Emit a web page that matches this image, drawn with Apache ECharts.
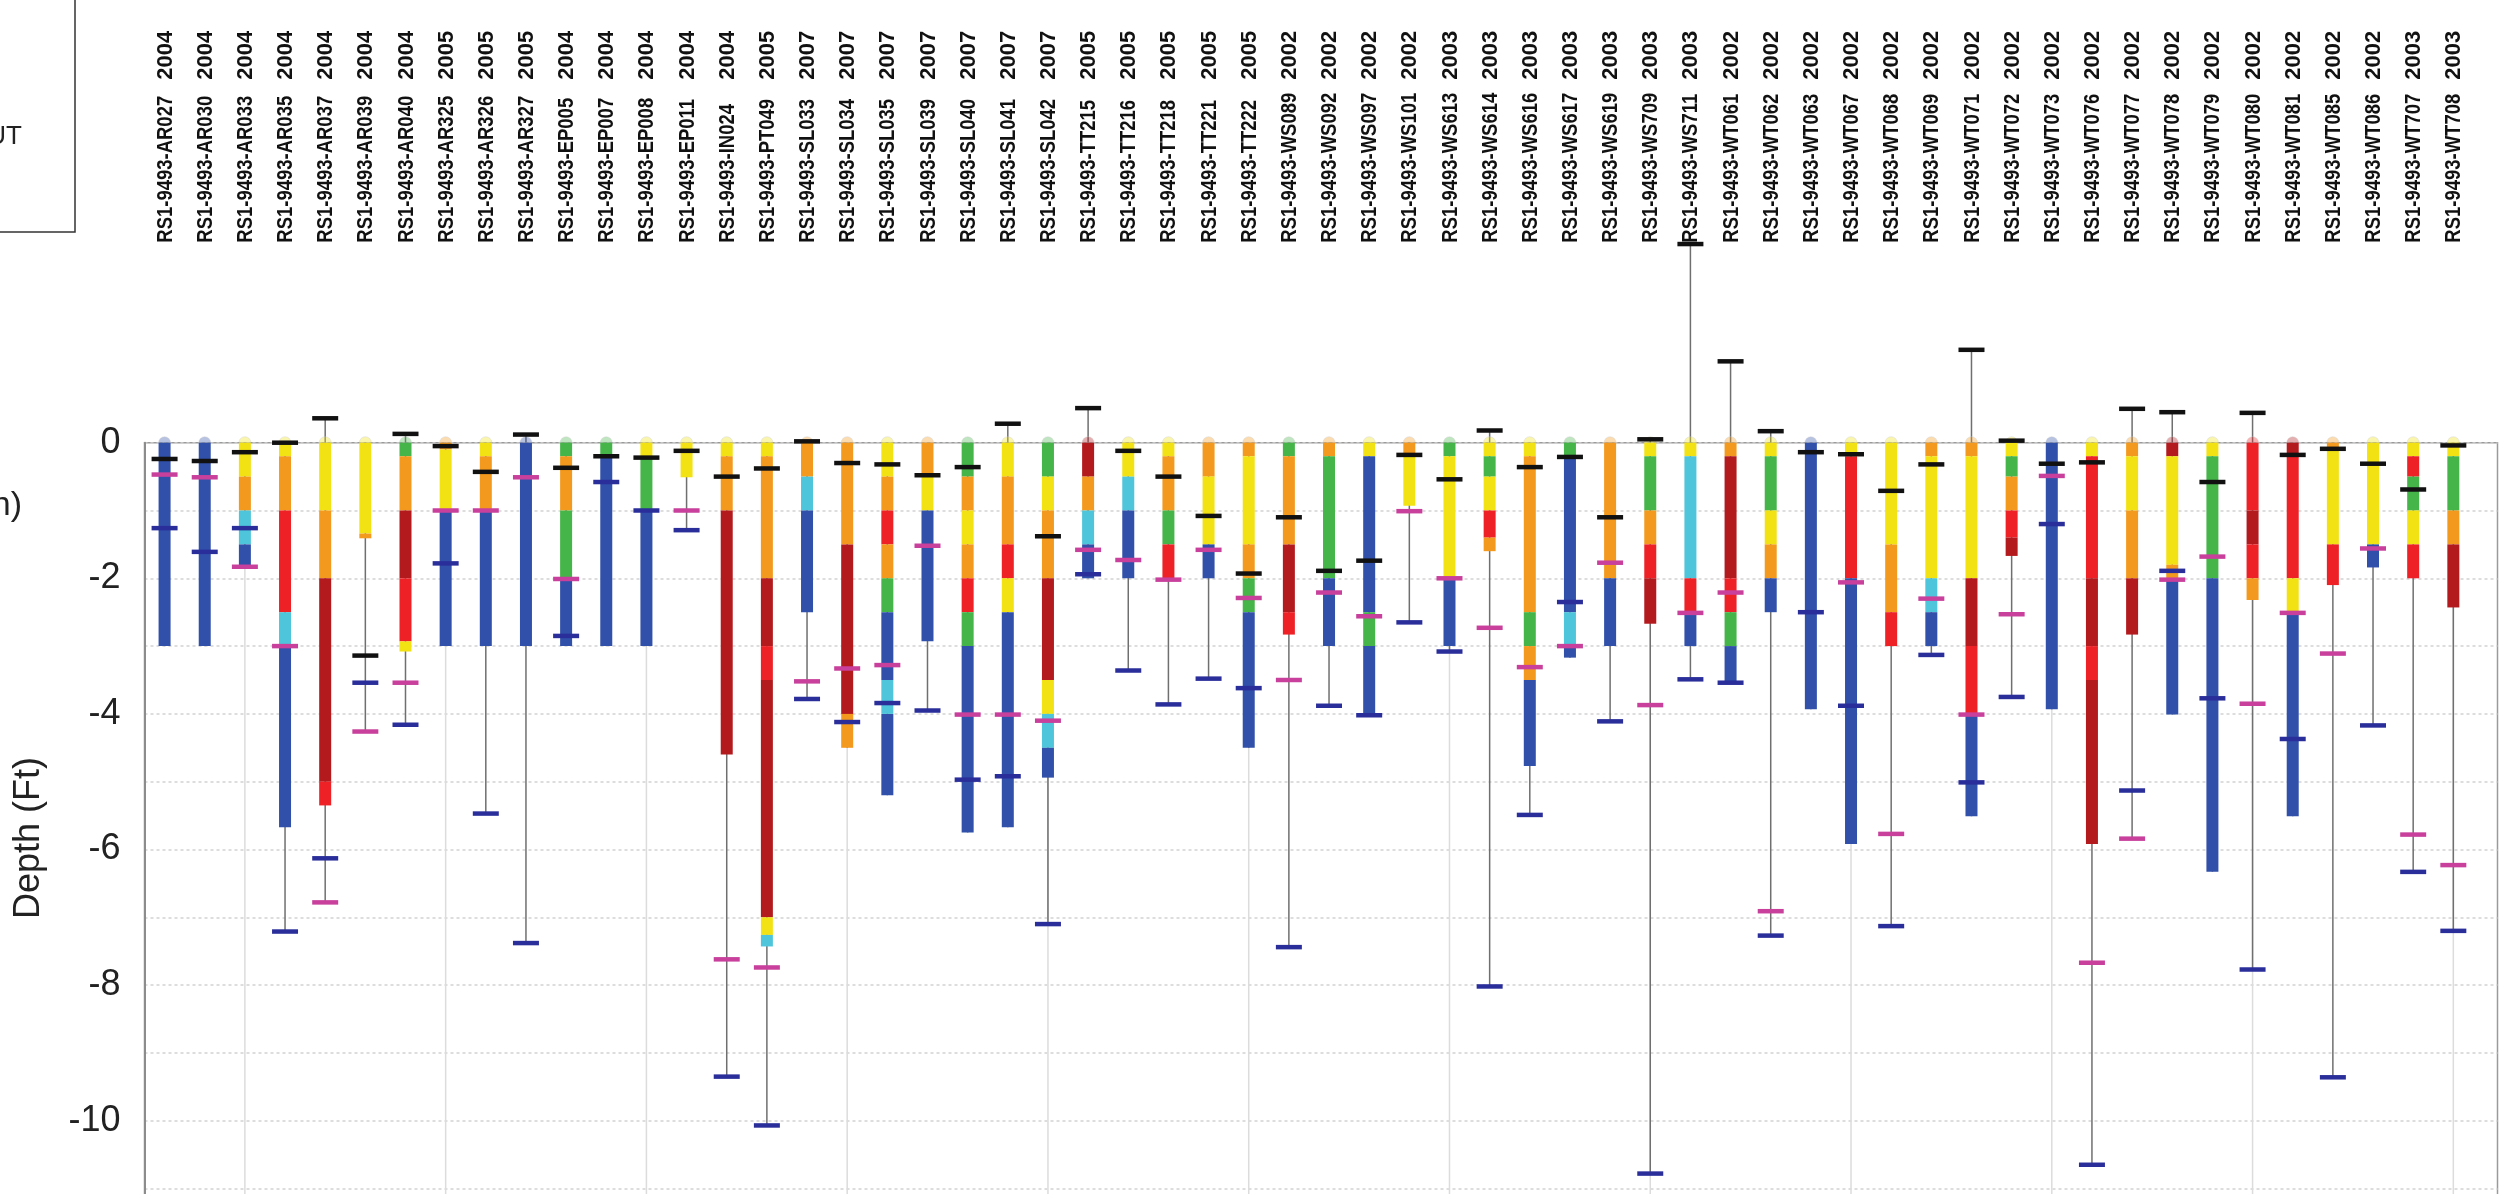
<!DOCTYPE html>
<html><head><meta charset="utf-8">
<script src="https://cdn.jsdelivr.net/npm/echarts@6/dist/echarts.min.js"></script>
<style>html,body{margin:0;padding:0;background:#fff}#c{width:2515px;height:1194px}</style>
</head><body><div id="c"></div>
<script>
const wells = ['RS1-9493-AR027','RS1-9493-AR030','RS1-9493-AR033','RS1-9493-AR035','RS1-9493-AR037','RS1-9493-AR039','RS1-9493-AR040','RS1-9493-AR325','RS1-9493-AR326','RS1-9493-AR327','RS1-9493-EP005','RS1-9493-EP007','RS1-9493-EP008','RS1-9493-EP011','RS1-9493-IN024','RS1-9493-PT049','RS1-9493-SL033','RS1-9493-SL034','RS1-9493-SL035','RS1-9493-SL039','RS1-9493-SL040','RS1-9493-SL041','RS1-9493-SL042','RS1-9493-TT215','RS1-9493-TT216','RS1-9493-TT218','RS1-9493-TT221','RS1-9493-TT222','RS1-9493-WS089','RS1-9493-WS092','RS1-9493-WS097','RS1-9493-WS101','RS1-9493-WS613','RS1-9493-WS614','RS1-9493-WS616','RS1-9493-WS617','RS1-9493-WS619','RS1-9493-WS709','RS1-9493-WS711','RS1-9493-WT061','RS1-9493-WT062','RS1-9493-WT063','RS1-9493-WT067','RS1-9493-WT068','RS1-9493-WT069','RS1-9493-WT071','RS1-9493-WT072','RS1-9493-WT073','RS1-9493-WT076','RS1-9493-WT077','RS1-9493-WT078','RS1-9493-WT079','RS1-9493-WT080','RS1-9493-WT081','RS1-9493-WT085','RS1-9493-WT086','RS1-9493-WT707','RS1-9493-WT708'];
const years = ['2004','2004','2004','2004','2004','2004','2004','2005','2005','2005','2004','2004','2004','2004','2004','2005','2007','2007','2007','2007','2007','2007','2007','2005','2005','2005','2005','2005','2002','2002','2002','2002','2003','2003','2003','2003','2003','2003','2003','2002','2002','2002','2002','2002','2002','2002','2002','2002','2002','2002','2002','2002','2002','2002','2002','2002','2003','2003'];
// stacked layers per well: [colour code, top depth, bottom depth] (ft)
const layers = [
 [['B',0,-3]],
 [['B',0,-3]],
 [['Y',0,-0.5],['O',-0.5,-1],['C',-1,-1.5],['B',-1.5,-1.83]],
 [['Y',0,-0.2],['O',-0.2,-1],['R',-1,-2.5],['C',-2.5,-3],['B',-3,-5.67]],
 [['Y',0,-1],['O',-1,-2],['D',-2,-5.0],['R',-5.0,-5.35]],
 [['Y',0,-1.34],['O',-1.34,-1.41]],
 [['G',0,-0.2],['O',-0.2,-1],['D',-1,-2],['R',-2,-2.93],['Y',-2.93,-3.08]],
 [['O',0,-0.1],['Y',-0.1,-1],['B',-1,-3]],
 [['Y',0,-0.2],['O',-0.2,-1],['B',-1,-3]],
 [['B',0,-3]],
 [['G',0,-0.2],['O',-0.2,-1],['G',-1,-2],['B',-2,-3]],
 [['G',0,-0.2],['B',-0.2,-3]],
 [['Y',0,-0.2],['G',-0.2,-1],['B',-1,-3]],
 [['Y',0,-0.51]],
 [['Y',0,-0.2],['O',-0.2,-1],['D',-1,-4.6]],
 [['Y',0,-0.2],['O',-0.2,-2],['D',-2,-3],['R',-3,-3.5],['D',-3.5,-7.0],['Y',-7.0,-7.26],['C',-7.26,-7.43]],
 [['O',0,-0.5],['C',-0.5,-1],['B',-1,-2.5]],
 [['O',0,-1.5],['D',-1.5,-4],['O',-4,-4.5]],
 [['Y',0,-0.5],['O',-0.5,-1],['R',-1,-1.5],['O',-1.5,-2],['G',-2,-2.5],['B',-2.5,-3.5],['C',-3.5,-4],['B',-4,-5.2]],
 [['O',0,-0.5],['Y',-0.5,-1],['B',-1,-2.93]],
 [['G',0,-0.5],['O',-0.5,-1],['Y',-1,-1.5],['O',-1.5,-2],['R',-2,-2.5],['G',-2.5,-3],['B',-3,-5.75]],
 [['Y',0,-0.5],['O',-0.5,-1.5],['R',-1.5,-2],['Y',-2,-2.5],['B',-2.5,-5.67]],
 [['G',0,-0.5],['Y',-0.5,-1],['O',-1,-2],['D',-2,-3.5],['Y',-3.5,-4],['C',-4,-4.5],['B',-4.5,-4.94]],
 [['D',0,-0.5],['O',-0.5,-1],['C',-1,-1.5],['B',-1.5,-2]],
 [['Y',0,-0.5],['C',-0.5,-1],['B',-1,-2]],
 [['Y',0,-0.2],['O',-0.2,-1],['G',-1,-1.5],['R',-1.5,-2.02]],
 [['O',0,-0.5],['Y',-0.5,-1.5],['B',-1.5,-2]],
 [['O',0,-0.2],['Y',-0.2,-1.5],['O',-1.5,-2],['G',-2,-2.5],['B',-2.5,-4.5]],
 [['G',0,-0.2],['O',-0.2,-1.5],['D',-1.5,-2.5],['R',-2.5,-2.83]],
 [['O',0,-0.2],['G',-0.2,-2],['B',-2,-3]],
 [['Y',0,-0.2],['B',-0.2,-2.5],['G',-2.5,-3],['B',-3,-4.02]],
 [['O',0,-0.17],['Y',-0.17,-0.93]],
 [['G',0,-0.2],['Y',-0.2,-2],['B',-2,-3]],
 [['Y',0,-0.2],['G',-0.2,-0.5],['Y',-0.5,-1],['R',-1,-1.4],['O',-1.4,-1.6]],
 [['Y',0,-0.2],['O',-0.2,-2.5],['G',-2.5,-3],['O',-3,-3.5],['B',-3.5,-4.77]],
 [['G',0,-0.2],['B',-0.2,-2.5],['C',-2.5,-3],['B',-3,-3.17]],
 [['O',0,-2],['B',-2,-3]],
 [['Y',0,-0.2],['G',-0.2,-1],['O',-1,-1.5],['R',-1.5,-2],['D',-2,-2.67]],
 [['Y',0,-0.2],['C',-0.2,-2],['R',-2,-2.5],['B',-2.5,-3]],
 [['O',0,-0.2],['D',-0.2,-2],['R',-2,-2.5],['G',-2.5,-3],['B',-3,-3.54]],
 [['Y',0,-0.2],['G',-0.2,-1],['Y',-1,-1.5],['O',-1.5,-2],['B',-2,-2.5]],
 [['B',0,-3.93]],
 [['Y',0,-0.2],['R',-0.2,-2],['B',-2,-5.92]],
 [['Y',0,-1.5],['O',-1.5,-2.5],['R',-2.5,-3]],
 [['O',0,-0.2],['Y',-0.2,-2],['C',-2,-2.5],['B',-2.5,-3]],
 [['O',0,-0.2],['Y',-0.2,-2],['D',-2,-3],['R',-3,-4],['B',-4,-5.51]],
 [['Y',0,-0.2],['G',-0.2,-0.5],['O',-0.5,-1],['R',-1,-1.4],['D',-1.4,-1.67]],
 [['B',0,-3.93]],
 [['Y',0,-0.2],['R',-0.2,-2],['D',-2,-3],['R',-3,-3.5],['D',-3.5,-5.92]],
 [['O',0,-0.2],['Y',-0.2,-1],['O',-1,-2],['D',-2,-2.83]],
 [['D',0,-0.2],['Y',-0.2,-1.8],['O',-1.8,-2],['B',-2,-4.01]],
 [['Y',0,-0.2],['G',-0.2,-2],['B',-2,-6.33]],
 [['R',0,-1],['D',-1,-1.5],['R',-1.5,-2],['O',-2,-2.32]],
 [['D',0,-0.2],['R',-0.2,-2],['Y',-2,-2.5],['B',-2.5,-5.51]],
 [['O',0,-0.1],['Y',-0.1,-1.5],['R',-1.5,-2.1]],
 [['Y',0,-1.5],['B',-1.5,-1.84]],
 [['Y',0,-0.2],['R',-0.2,-0.5],['G',-0.5,-1],['Y',-1,-1.5],['R',-1.5,-2]],
 [['Y',0,-0.2],['G',-0.2,-1],['O',-1,-1.5],['D',-1.5,-2.43]]
];
const blackMark = [-0.24,-0.27,-0.14,0.0,0.36,-3.14,0.13,-0.05,-0.43,0.12,-0.37,-0.2,-0.22,-0.12,-0.5,-0.38,0.02,-0.3,-0.32,-0.48,-0.36,0.28,-1.38,0.51,-0.12,-0.5,-1.08,-1.93,-1.1,-1.89,-1.74,-0.18,-0.54,0.18,-0.36,-0.21,-1.1,0.05,2.93,1.2,0.17,-0.14,-0.17,-0.71,-0.32,1.37,0.03,-0.31,-0.29,0.5,0.45,-0.58,0.44,-0.18,-0.09,-0.31,-0.69,-0.04];
const pinkMark = [-0.47,-0.51,-1.83,-3.0,-6.78,-4.26,-3.54,-1.0,-1.0,-0.51,-2.01,null,null,-1.0,-7.62,-7.74,-3.52,-3.33,-3.28,-1.52,-4.01,-4.01,-4.1,-1.58,-1.73,-2.02,-1.58,-2.29,-3.5,-2.21,-2.56,-1.01,-2.0,-2.73,-3.31,-3.0,-1.77,-3.87,-2.51,-2.21,-6.91,null,-2.06,-5.77,-2.3,-4.01,-2.53,-0.49,-7.67,-5.84,-2.02,-1.68,-3.85,-2.51,-3.11,-1.56,-5.78,-6.23];
const navyMark = [-1.26,-1.61,-1.26,-7.21,-6.13,-3.54,-4.16,-1.78,-5.47,-7.38,-2.85,-0.58,-1.0,-1.29,-9.35,-10.07,-3.78,-4.12,-3.84,-3.95,-4.97,-4.92,-7.10,-1.94,-3.36,-3.86,-3.48,-3.62,-7.44,-3.88,-4.02,-2.65,-3.08,-8.02,-5.49,-2.35,-4.11,-10.78,-3.49,-3.54,-7.27,-2.5,-3.88,-7.13,-3.13,-5.01,-3.75,-1.2,-10.65,-5.13,-1.89,-3.77,-7.77,-4.37,-9.36,-4.17,-6.33,-7.2];
const vGridIdx = [2,7,12,17,22,27,32,37,42,47,52,57];
const yLabelValues = [0,-2,-4,-6,-8,-10];

const layerColors = {Y:'#f2e214',O:'#f39a1e',C:'#4ec5da',B:'#3150aa',R:'#ee2126',D:'#b31a1e',G:'#45b54a'};
const markColors = ['#111111','#c8409c','#2a2e9a'];

function renderWell(params, api){
  const i = api.value(0);
  const L = layers[i];
  const p0 = api.coord([i,0]);
  const cx = p0[0], y0 = p0[1];
  const barW = 12, markW = 26, markH = 4.5;
  const ch = [];
  const marks = [blackMark[i], pinkMark[i], navyMark[i]];
  const present = marks.filter(v => v != null);
  const barBottom = L[L.length-1][2];
  const top = Math.max(0, ...present);
  const bottom = Math.min(barBottom, ...present);
  ch.push({type:'line', shape:{x1:cx, y1:api.coord([i,top])[1], x2:cx, y2:api.coord([i,bottom])[1]},
           style:{stroke:'#6f6f6f', lineWidth:1.5}});
  ch.push({type:'sector', shape:{cx:cx, cy:y0, r:barW/2, startAngle:Math.PI, endAngle:2*Math.PI},
           style:{fill:layerColors[L[0][0]], opacity:0.35, stroke:'#c8c8c8', lineWidth:1}});
  L.forEach(s => {
    const ya = api.coord([i,s[1]])[1], yb = api.coord([i,s[2]])[1];
    ch.push({type:'rect', shape:{x:cx-barW/2, y:ya, width:barW, height:yb-ya}, style:{fill:layerColors[s[0]]}});
  });
  marks.forEach((v,k) => {
    if (v == null) return;
    const yv = api.coord([i,v])[1];
    ch.push({type:'rect', shape:{x:cx-markW/2, y:yv-markH/2, width:markW, height:markH}, style:{fill:markColors[k]}});
  });
  return {type:'group', children:ch};
}

function renderLabel(params, api){
  const i = api.value(0);
  const p0 = api.coord([i,0]);
  const cx = p0[0], y0 = p0[1];
  return {type:'group', children:[
    {type:'text', x:cx+1, y:y0-200, rotation:Math.PI/2, scaleX:0.84,
     style:{text:wells[i], x:0, y:0, align:'left', verticalAlign:'middle', font:'bold 22px "Liberation Sans", Arial, sans-serif', fill:'#111'}},
    {type:'text', x:cx+1, y:y0-363, rotation:Math.PI/2,
     style:{text:years[i], x:0, y:0, align:'left', verticalAlign:'middle', font:'bold 22px "Liberation Sans", Arial, sans-serif', fill:'#111'}}
  ]};
}

function renderVGrid(params, api){
  const v = api.value(0);
  const a = api.coord([v,0]), b = api.coord([v,-12]);
  return {type:'line', shape:{x1:a[0], y1:a[1], x2:b[0], y2:b[1]}, style:{stroke:'#dcdcdc', lineWidth:1.5}};
}

const chart = echarts.init(document.getElementById('c'), null, {renderer:'canvas'});
chart.setOption({
  animation:false,
  backgroundColor:'#ffffff',
  grid:{left:144.5, top:442.7, width:2353, height:813.6, show:true, borderColor:'#9a9a9a', borderWidth:1.5,
        containLabel:false, outerBoundsMode:'none'},
  xAxis:{type:'value', min:-0.5, max:58.1, show:false},
  yAxis:{type:'value', min:-12, max:0, interval:1,
    axisLine:{show:true, onZero:false, lineStyle:{color:'#8c8c8c', width:2}},
    axisTick:{show:false},
    axisLabel:{margin:24, fontSize:36, color:'#222', fontFamily:'"Liberation Sans", Arial, sans-serif',
      formatter: v => yLabelValues.indexOf(v) >= 0 ? String(v) : ''},
    splitLine:{show:true, lineStyle:{color:'#d2d2d2', type:[3,3], width:1.5}}
  },
  graphic:[
    {type:'rect', shape:{x:-2, y:-2, width:77, height:234}, style:{fill:'none', stroke:'#333', lineWidth:1.5}},
    {type:'text', x:22, y:137, style:{text:'UT', align:'right', verticalAlign:'middle', font:'26px "Liberation Sans", Arial, sans-serif', fill:'#222'}},
    {type:'text', x:22, y:506, style:{text:'n)', align:'right', verticalAlign:'middle', font:'34px "Liberation Sans", Arial, sans-serif', fill:'#222'}},
    {type:'text', x:29, y:838, rotation:Math.PI/2, style:{text:'Depth (Ft)', x:0, y:0, align:'center', verticalAlign:'middle', font:'36px "Liberation Sans", Arial, sans-serif', fill:'#222'}}
  ],
  series:[
    {type:'custom', name:'vgrid', clip:false, z:1, silent:true, renderItem:renderVGrid, data:vGridIdx.map(v=>[v,0])},
    {type:'custom', name:'wells', clip:false, z:3, renderItem:renderWell, data:wells.map((w,i)=>[i,0])},
    {type:'custom', name:'labels', clip:false, z:4, silent:true, renderItem:renderLabel, data:wells.map((w,i)=>[i,0])}
  ]
});
</script></body></html>
